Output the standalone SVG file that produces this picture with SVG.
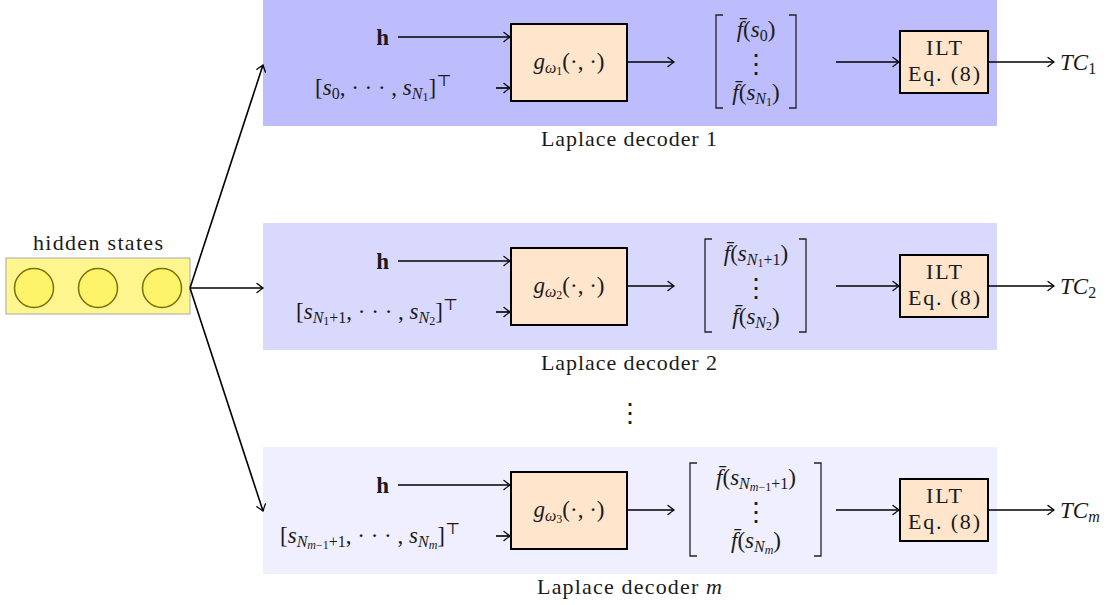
<svg xmlns="http://www.w3.org/2000/svg" width="1118" height="605" viewBox="0 0 1118 605">
<defs>
<marker id="arr" markerUnits="userSpaceOnUse" markerWidth="12" markerHeight="12" viewBox="-8 -6 10 12" refX="0" refY="0" orient="auto">
<path d="M-6,-4.5 Q-1.5,-1 0,0 Q-1.5,1 -6,4.5" fill="none" stroke="#000" stroke-width="1.3" stroke-linecap="round"/>
</marker>
</defs>
<style>
text{font-family:"Liberation Serif","DejaVu Serif",serif;fill:#1a1a1a;font-size:22px}
.mt{font-size:23px}
.m{font-style:italic}
.b{font-weight:bold;font-size:23px}
.sub{font-size:16px}
.ssub{font-size:12px}
.vd{font-size:26px}
.box{fill:#ffe5cc;stroke:#000;stroke-width:2}
.ln{fill:none;stroke:#000;stroke-width:1.6}
.br{fill:none;stroke:#222;stroke-width:1.3}
.c{text-anchor:middle}
</style>
<rect x="263" y="0" width="734" height="126" fill="#bdbdfd"/>
<rect x="263" y="223" width="734" height="127" fill="#d9d9fd"/>
<rect x="263" y="447" width="734" height="127" fill="#efefff"/>

<g id="hidden">
<text x="33" y="250" textLength="130" lengthAdjust="spacing">hidden states</text>
<rect x="6" y="258" width="184" height="56" fill="#fff68f" stroke="#a8a8a8" stroke-width="1"/>
<circle cx="34" cy="288" r="19.5" fill="#fff36a" stroke="#77700a" stroke-width="1.5"/>
<circle cx="98" cy="288" r="19.5" fill="#fff36a" stroke="#77700a" stroke-width="1.5"/>
<circle cx="162" cy="288" r="19.5" fill="#fff36a" stroke="#77700a" stroke-width="1.5"/>
</g>

<g id="connectors">
<line class="ln" x1="190" y1="288" x2="263" y2="65" marker-end="url(#arr)"/>
<line class="ln" x1="190" y1="288" x2="263" y2="288" marker-end="url(#arr)"/>
<line class="ln" x1="190" y1="288" x2="263" y2="511" marker-end="url(#arr)"/>
<g id="c1">
<line class="ln" x1="398" y1="37" x2="510" y2="37" marker-end="url(#arr)"/>
<line class="ln" x1="496" y1="88" x2="510" y2="88" marker-end="url(#arr)"/>
<line class="ln" x1="627" y1="62" x2="674" y2="62" marker-end="url(#arr)"/>
<line class="ln" x1="836" y1="62" x2="899" y2="62" marker-end="url(#arr)"/>
<line class="ln" x1="988" y1="62" x2="1054" y2="62" marker-end="url(#arr)"/>
</g>
<g transform="translate(0,224)">
<line class="ln" x1="398" y1="37" x2="510" y2="37" marker-end="url(#arr)"/>
<line class="ln" x1="496" y1="88" x2="510" y2="88" marker-end="url(#arr)"/>
<line class="ln" x1="627" y1="62" x2="674" y2="62" marker-end="url(#arr)"/>
<line class="ln" x1="836" y1="62" x2="899" y2="62" marker-end="url(#arr)"/>
<line class="ln" x1="988" y1="62" x2="1054" y2="62" marker-end="url(#arr)"/>
</g>
<g transform="translate(0,448)">
<line class="ln" x1="398" y1="37" x2="510" y2="37" marker-end="url(#arr)"/>
<line class="ln" x1="496" y1="88" x2="510" y2="88" marker-end="url(#arr)"/>
<line class="ln" x1="627" y1="62" x2="674" y2="62" marker-end="url(#arr)"/>
<line class="ln" x1="836" y1="62" x2="899" y2="62" marker-end="url(#arr)"/>
<line class="ln" x1="988" y1="62" x2="1054" y2="62" marker-end="url(#arr)"/>
</g>
</g>

<g id="decoder1">
<text x="389" y="45" class="b" text-anchor="end">h</text>
<text x="315" y="95" class="mt">[<tspan class="m">s</tspan><tspan class="sub" dy="4">0</tspan><tspan dy="-4">, · · · , </tspan><tspan class="m">s</tspan><tspan class="sub m" dy="4">N</tspan><tspan class="ssub" dy="2">1</tspan><tspan dy="-6">]</tspan><tspan class="sub" dy="-9">⊤</tspan></text>
<rect class="box" x="511" y="24" width="116" height="77"/>
<text x="569" y="69" class="c mt"><tspan class="m">g</tspan><tspan class="sub m" dy="4">ω</tspan><tspan class="ssub" dy="2">1</tspan><tspan dy="-6">(·, ·)</tspan></text>
<path class="br" d="M723,15 H716 V108 H723 M789,15 H796 V108 H789"/>
<text x="756" y="37" class="c mt"><tspan class="m">f̄</tspan>(<tspan class="m">s</tspan><tspan class="sub" dy="4">0</tspan><tspan dy="-4">)</tspan></text>
<text x="756" y="73" class="c vd">⋮</text>
<text x="756" y="100" class="c mt"><tspan class="m">f̄</tspan>(<tspan class="m">s</tspan><tspan class="sub m" dy="4">N</tspan><tspan class="ssub" dy="2">1</tspan><tspan dy="-6">)</tspan></text>
<rect class="box" x="900" y="31" width="88" height="62"/>
<text x="944" y="55" class="c" textLength="36" lengthAdjust="spacing">ILT</text>
<text x="944" y="81" class="c" textLength="72" lengthAdjust="spacing">Eq. (8)</text>
<text x="1060" y="70" class="m mt">TC<tspan class="sub" font-style="normal" dy="4">1</tspan></text>
<text x="541" y="146" textLength="176" lengthAdjust="spacing">Laplace decoder 1</text>
</g>

<g id="decoder2" transform="translate(0,224)">
<text x="389" y="45" class="b" text-anchor="end">h</text>
<text x="296" y="95" class="mt">[<tspan class="m">s</tspan><tspan class="sub m" dy="4">N</tspan><tspan class="ssub" dy="2">1</tspan><tspan class="sub" dy="-2">+1</tspan><tspan dy="-4">, · · · , </tspan><tspan class="m">s</tspan><tspan class="sub m" dy="4">N</tspan><tspan class="ssub" dy="2">2</tspan><tspan dy="-6">]</tspan><tspan class="sub" dy="-9">⊤</tspan></text>
<rect class="box" x="511" y="24" width="116" height="77"/>
<text x="569" y="69" class="c mt"><tspan class="m">g</tspan><tspan class="sub m" dy="4">ω</tspan><tspan class="ssub" dy="2">2</tspan><tspan dy="-6">(·, ·)</tspan></text>
<path class="br" d="M712,15 H705 V108 H712 M799,15 H806 V108 H799"/>
<text x="756" y="37" class="c mt"><tspan class="m">f̄</tspan>(<tspan class="m">s</tspan><tspan class="sub m" dy="4">N</tspan><tspan class="ssub" dy="2">1</tspan><tspan class="sub" dy="-2">+1</tspan><tspan dy="-4">)</tspan></text>
<text x="756" y="73" class="c vd">⋮</text>
<text x="756" y="100" class="c mt"><tspan class="m">f̄</tspan>(<tspan class="m">s</tspan><tspan class="sub m" dy="4">N</tspan><tspan class="ssub" dy="2">2</tspan><tspan dy="-6">)</tspan></text>
<rect class="box" x="900" y="31" width="88" height="62"/>
<text x="944" y="55" class="c" textLength="36" lengthAdjust="spacing">ILT</text>
<text x="944" y="81" class="c" textLength="72" lengthAdjust="spacing">Eq. (8)</text>
<text x="1060" y="70" class="m mt">TC<tspan class="sub" font-style="normal" dy="4">2</tspan></text>
<text x="541" y="146" textLength="176" lengthAdjust="spacing">Laplace decoder 2</text>
</g>

<text x="630" y="422" class="c vd">⋮</text>

<g id="decoder3" transform="translate(0,448)">
<text x="389" y="45" class="b" text-anchor="end">h</text>
<text x="280" y="95" class="mt">[<tspan class="m">s</tspan><tspan class="sub m" dy="4">N</tspan><tspan class="ssub m" dy="2">m</tspan><tspan class="ssub">−1</tspan><tspan class="sub" dy="-2">+1</tspan><tspan dy="-4">, · · · , </tspan><tspan class="m">s</tspan><tspan class="sub m" dy="4">N</tspan><tspan class="ssub m" dy="2">m</tspan><tspan dy="-6">]</tspan><tspan class="sub" dy="-9">⊤</tspan></text>
<rect class="box" x="511" y="24" width="116" height="77"/>
<text x="569" y="69" class="c mt"><tspan class="m">g</tspan><tspan class="sub m" dy="4">ω</tspan><tspan class="ssub" dy="2">3</tspan><tspan dy="-6">(·, ·)</tspan></text>
<path class="br" d="M697,15 H690 V108 H697 M814,15 H821 V108 H814"/>
<text x="756" y="37" class="c mt"><tspan class="m">f̄</tspan>(<tspan class="m">s</tspan><tspan class="sub m" dy="4">N</tspan><tspan class="ssub m" dy="2">m</tspan><tspan class="ssub">−1</tspan><tspan class="sub" dy="-2">+1</tspan><tspan dy="-4">)</tspan></text>
<text x="756" y="73" class="c vd">⋮</text>
<text x="756" y="100" class="c mt"><tspan class="m">f̄</tspan>(<tspan class="m">s</tspan><tspan class="sub m" dy="4">N</tspan><tspan class="ssub m" dy="2">m</tspan><tspan dy="-6">)</tspan></text>
<rect class="box" x="900" y="31" width="88" height="62"/>
<text x="944" y="55" class="c" textLength="36" lengthAdjust="spacing">ILT</text>
<text x="944" y="81" class="c" textLength="72" lengthAdjust="spacing">Eq. (8)</text>
<text x="1060" y="70" class="m mt">TC<tspan class="sub m" dy="4">m</tspan></text>
<text x="537" y="146" textLength="185" lengthAdjust="spacing">Laplace decoder <tspan class="m">m</tspan></text>
</g>
</svg>
